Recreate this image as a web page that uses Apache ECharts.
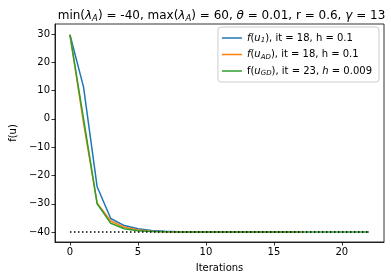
<!DOCTYPE html>
<html><head><meta charset="utf-8">
<script src="https://cdn.jsdelivr.net/npm/echarts@6/dist/echarts.min.js"></script>
<style>html,body{margin:0;padding:0;background:#fff}#c{width:391px;height:280px}</style>
</head><body><div id="c"></div>
<script>
var fU1 = [29.7, 11.2, -24, -35.2, -37.7, -38.8, -39.4, -39.7, -39.85, -39.93, -39.97, -39.98, -39.99, -40, -40, -40, -40, -40];
var fUAD = [29.7, -1.5, -29.8, -36.1, -38.3, -39.3, -39.7, -39.87, -39.95, -39.98, -39.99, -40, -40, -40, -40, -40, -40, -40];
var fUGD = [29.7, 0, -30, -36.9, -38.8, -39.5, -39.8, -39.92, -39.97, -39.99, -40, -40, -40, -40, -40, -40, -40, -40, -40, -40, -40, -40, -40];
var minLine = [-40, -40];
var minLineX = [0, 22];
var xTicks = [0, 5, 10, 15, 20];
var yTicks = [-40, -30, -20, -10, 0, 10, 20, 30];
var seriesNames = ['u1', 'uAD', 'uGD'];
var legendLabels = {
  u1: '{i|f}{n|(}{i|u}{sub|1}{n|), it = 18, h = 0.1}',
  uAD: '{i|f}{n|(}{i|u}{sub|AD}{n|), it = 18, h = 0.1}',
  uGD: '{n|f(}{i|u}{sub|GD}{n|), it = 23, }{i|h}{n| = 0.009}'
};
var titleText = '{n|min(}{i|λ}{sub|A}{n|) = -40, max(}{i|λ}{sub|A}{n|) = 60, }{i|θ}{n| = 0.01, r = 0.6, }{i|γ}{n| = 13}';

function pairs(arr) { return arr.map(function (v, i) { return [i, v]; }); }
function minus(v) { return String(v).replace('-', '\u2212'); }

var font = 'DejaVu Sans';
var chart = echarts.init(document.getElementById('c'), null, {renderer: 'canvas'});
chart.setOption({
  animation: false,
  backgroundColor: '#fff',
  title: {
    text: titleText,
    left: 216.5, top: 3, textAlign: 'center',
    textStyle: {
      fontWeight: 'normal', fontFamily: font, fontSize: 12,
      rich: {
        n: {fontFamily: font, fontSize: 12, fontWeight: 'normal', color: '#000', lineHeight: 16},
        i: {fontFamily: font, fontSize: 12, fontWeight: 'normal', fontStyle: 'italic', color: '#000', lineHeight: 16},
        sub: {fontFamily: font, fontSize: 8.5, fontWeight: 'normal', fontStyle: 'italic', color: '#000', lineHeight: 16, padding: [6, 0, 0, 0]}
      }
    }
  },
  grid: {left: 49, right: 7, top: 24, bottom: 38, show: true, borderColor: '#000', borderWidth: 0.8},
  legend: {
    data: seriesNames,
    orient: 'vertical',
    right: 12, top: 27,
    padding: [5, 7, 5, 4],
    itemGap: 4.5,
    itemWidth: 20, itemHeight: 1.5,
    icon: 'rect',
    backgroundColor: 'rgba(255,255,255,0.8)',
    borderColor: '#cccccc', borderWidth: 1, borderRadius: 3,
    formatter: function (name) { return legendLabels[name]; },
    textStyle: {
      rich: {
        n: {fontFamily: font, fontSize: 10, color: '#000', lineHeight: 14},
        i: {fontFamily: font, fontSize: 10, fontStyle: 'italic', color: '#000', lineHeight: 14},
        sub: {fontFamily: font, fontSize: 7, fontStyle: 'italic', color: '#000', lineHeight: 14, padding: [5, 0, 0, 0]}
      }
    }
  },
  xAxis: {
    type: 'value', min: -1.1, max: 23.1,
    name: 'Iterations', nameLocation: 'middle', nameGap: 21,
    nameTextStyle: {fontFamily: font, fontSize: 10, color: '#000'},
    axisLine: {show: true, onZero: false, lineStyle: {color: '#000', width: 0.8}},
    axisTick: {show: true, customValues: xTicks, length: 3.5, lineStyle: {color: '#000', width: 0.8}},
    axisLabel: {customValues: xTicks, fontFamily: font, fontSize: 10, color: '#000', margin: 5, formatter: minus},
    splitLine: {show: false}
  },
  yAxis: {
    type: 'value', min: -43.5, max: 33.5,
    name: 'f(u)', nameLocation: 'middle', nameGap: 31, nameRotate: 90,
    nameTextStyle: {fontFamily: font, fontSize: 10, color: '#000'},
    axisLine: {show: true, onZero: false, lineStyle: {color: '#000', width: 0.8}},
    axisTick: {show: true, customValues: yTicks, length: 3.5, lineStyle: {color: '#000', width: 0.8}},
    axisLabel: {customValues: yTicks, fontFamily: font, fontSize: 10, color: '#000', margin: 5, formatter: minus},
    splitLine: {show: false}
  },
  series: [
    {name: 'u1', type: 'line', data: pairs(fU1), symbol: 'none', color: '#1f77b4', lineStyle: {width: 1.5}, z: 2},
    {name: 'uAD', type: 'line', data: pairs(fUAD), symbol: 'none', color: '#ff7f0e', lineStyle: {width: 1.5}, z: 3},
    {name: 'uGD', type: 'line', data: pairs(fUGD), symbol: 'none', color: '#2ca02c', lineStyle: {width: 1.5}, z: 4},
    {name: 'min', type: 'line', data: minLineX.map(function (x, i) { return [x, minLine[i]]; }), symbol: 'none', color: '#000', lineStyle: {width: 1.5, type: [1.5, 2.5]}, z: 5}
  ]
});
</script></body></html>
